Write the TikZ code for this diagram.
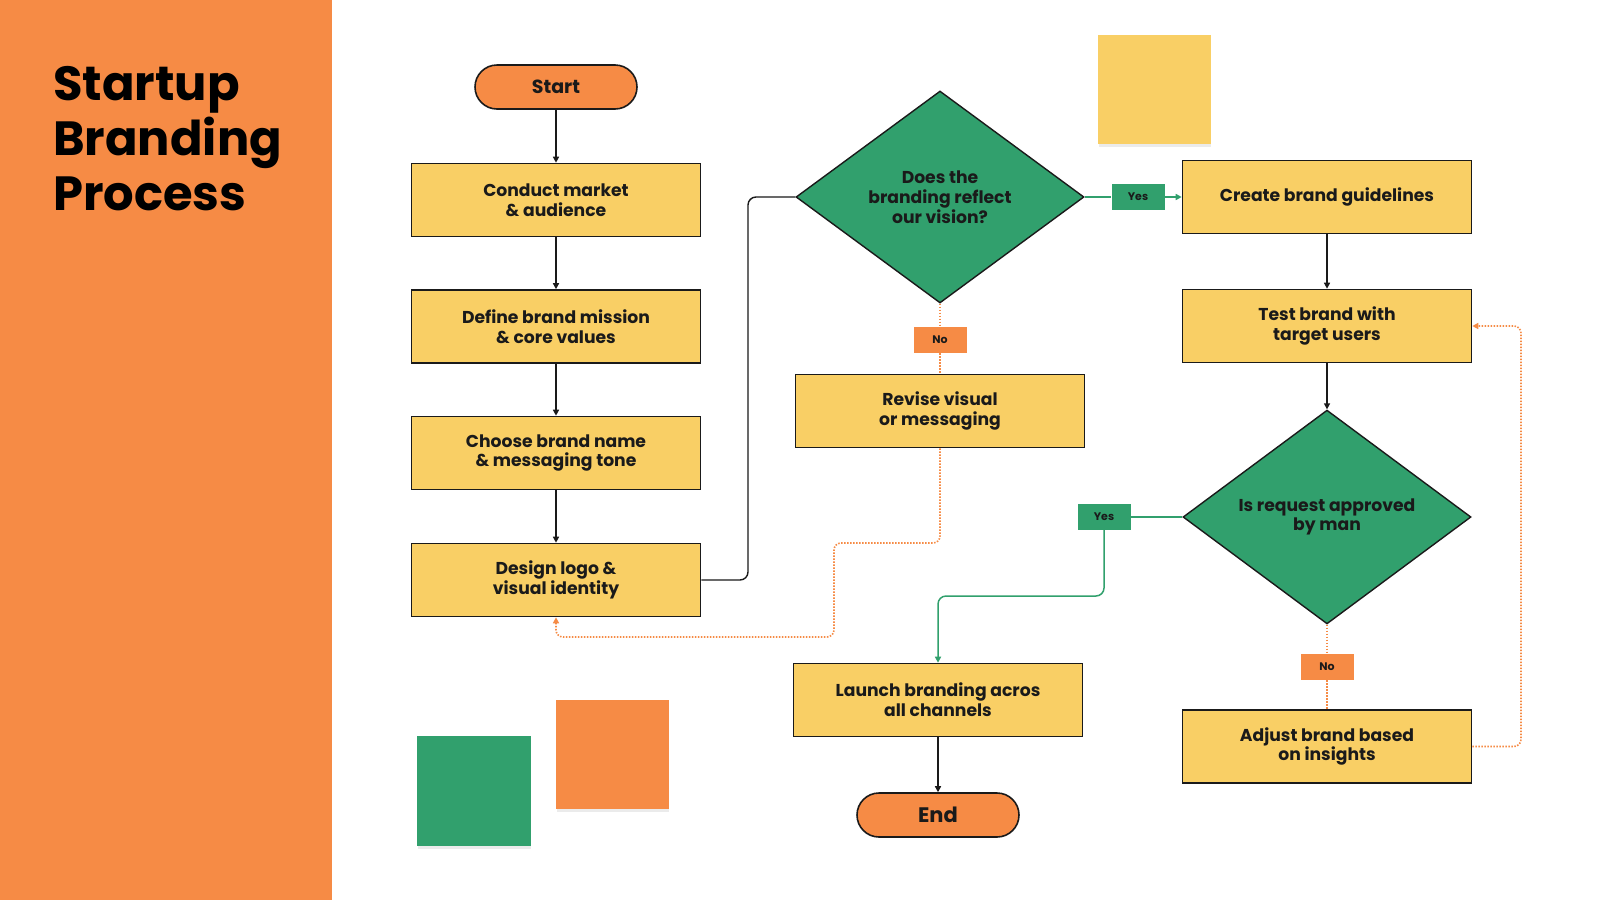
\documentclass[tikz,border=0pt]{standalone}
\usepackage{fontspec}
\setmainfont{Poppins}
\usetikzlibrary{shapes.geometric,arrows.meta}
\definecolor{borange}{HTML}{F68B45}
\definecolor{byellow}{HTML}{F9CF65}
\definecolor{bgreen}{HTML}{31A06D}
\definecolor{bdark}{HTML}{1A1A1A}
\begin{document}
\begin{tikzpicture}[x=1pt,y=-1pt,
  procbox/.style={rectangle,draw=bdark,line width=1.6pt,fill=byellow,minimum width=289pt,minimum height=73pt,inner sep=0pt,align=center,font=\bfseries\fontsize{17.2}{19.8}\selectfont,text=bdark},
  pill/.style={rectangle,rounded corners=22pt,draw=bdark,line width=1.6pt,fill=borange,minimum width=162pt,minimum height=44pt,inner sep=0pt,text=bdark},
  decision/.style={diamond,draw=bdark,line width=1.4pt,fill=bgreen,minimum width=288pt,minimum height=212pt,inner sep=0pt,align=center,font=\bfseries\fontsize{17.2}{19.8}\selectfont,text=bdark},
  yeslabel/.style={rectangle,fill=bgreen,minimum width=53pt,minimum height=26pt,inner sep=0pt,font=\bfseries\fontsize{11}{12}\selectfont,text=bdark},
  nolabel/.style={rectangle,fill=borange,minimum width=53pt,minimum height=26pt,inner sep=0pt,font=\bfseries\fontsize{11}{12}\selectfont,text=bdark},
  blk/.style={draw=bdark,line width=1.4pt,-{Triangle[length=6pt,width=6pt]}},
  blkline/.style={draw=bdark,line width=1.4pt,rounded corners=8pt},
  grn/.style={draw=bgreen,line width=1.5pt,rounded corners=8pt},
  grnarrow/.style={grn,-{Triangle[length=6pt,width=6pt]}},
  dot/.style={draw=borange,line width=1.6pt,dash pattern=on 1.5pt off 1.5pt,rounded corners=7pt},
  dotarrow/.style={dot,-{Triangle[length=6pt,width=6pt]}},
  title/.style={anchor=base west,font=\bfseries\fontsize{48}{55}\selectfont,text=black,inner sep=0pt}
]
\useasboundingbox (0,0) rectangle (1600,900);
\fill[white] (0,0) rectangle (1600,900);
% left panel
\fill[borange] (0,0) rectangle (332,900);
\node[title] (t1) at (53,100) {Startup};
\node[title] (t2) at (53,155) {Branding};
\node[title] (t3) at (53,210) {Process};
% decorative squares
\fill[black!8] (1099,37) rectangle (1211,147);
\fill[byellow] (1098,35) rectangle (1211,144);
\fill[black!8] (418,738) rectangle (531,849);
\fill[bgreen] (417,736) rectangle (531,846);
\fill[black!8] (557,702) rectangle (669,812);
\fill[borange] (556,700) rectangle (669,809);
% nodes
\node[pill,font=\bfseries\fontsize{19}{21}\selectfont] (start) at (556,87) {Start};
\node[procbox] (conduct) at (556,200) {Conduct market\\\& audience};
\node[procbox] (define) at (556,326.5) {Define brand mission\\\& core values};
\node[procbox] (choose) at (556,453) {Choose brand name\\\& messaging tone};
\node[procbox] (design) at (556,580) {Design logo \&\\visual identity};
\node[decision] (diam1) at (940,197) {Does the\\branding reflect\\our vision?};
\node[nolabel] (no1) at (940,340) {No};
\node[procbox] (revise) at (940,411) {Revise visual\\or messaging};
\node[yeslabel] (yes1) at (1138,197) {Yes};
\node[procbox] (create) at (1327,197) {Create brand guidelines};
\node[procbox] (test) at (1327,326) {Test brand with\\target users};
\node[decision] (diam2) at (1327,517) {Is request approved\\by man};
\node[yeslabel] (yes2) at (1104,517) {Yes};
\node[nolabel] (no2) at (1327,667) {No};
\node[procbox] (adjust) at (1327,746.5) {Adjust brand based\\on insights};
\node[procbox] (launch) at (938,700) {Launch branding acros\\all channels};
\node[pill,font=\bfseries\fontsize{21}{23}\selectfont] (endn) at (938,815) {End};
% helper coordinates
\coordinate (c1) at (748,580);
\coordinate (r1) at (834,543);
\coordinate (r2) at (834,637);
\coordinate (l1) at (1000,596);
\coordinate (a1) at (1521,746.5);
% connectors
\draw[blk] (start) -- (conduct);
\draw[blk] (conduct) -- (define);
\draw[blk] (define) -- (choose);
\draw[blk] (choose) -- (design);
\draw[blkline] (design.east) -- (c1) |- (diam1.west);
\draw[grn] (diam1.east) -- (yes1.west);
\draw[grnarrow] (yes1.east) -- (create.west);
\draw[dot] (diam1.south) -- (no1.north);
\draw[dot] (no1.south) -- (revise.north);
\draw[dotarrow] (revise.south) |- (r1) -- (r2) -| (design.south);
\draw[blk] (create) -- (test);
\draw[blk] (test) -- (diam2.north);
\draw[grn] (diam2.west) -- (yes2.east);
\draw[grnarrow] (yes2.south) |- (l1) -| (launch.north);
\draw[dot] (diam2.south) -- (no2.north);
\draw[dot] (no2.south) -- (adjust.north);
\draw[dotarrow] (adjust.east) -- (a1) |- (test.east);
\draw[blk] (launch) -- (endn);
\end{tikzpicture}
\end{document}
